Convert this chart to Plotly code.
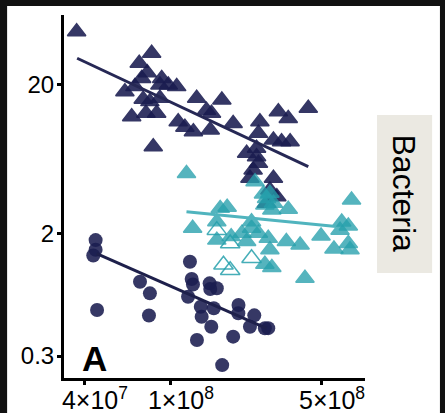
import plotly.graph_objects as go

# ---- data ----
navy_tri_x = [3.66e7, 8.14e7, 7.13e7, 7.77e7, 7.32e7, 9.06e7, 9.72e7, 1.063e8, 8.89e7, 6.81e7,
              6.12e7, 7.44e7, 7.99e7, 8.89e7, 6.58e7, 7.66e7, 8.59e7, 1.315e8, 1.46e8, 1.54e8,
              1.08e8, 1.16e8, 1.27e8, 1.52e8, 8.28e7, 1.72e8, 1.94e8, 3.14e8, 4.32e8, 3.49e8,
              2.58e8, 2.54e8, 2.98e8, 3.25e8, 3.56e8, 2.24e8, 2.49e8, 2.49e8, 2.54e8, 2.40e8,
              2.32e8, 2.98e8, 2.87e8, 3.09e8, 2.77e8]
navy_tri_y = [45.1, 32.3, 27.7, 23.9, 21.9, 21.9, 19.8, 19.3, 19.8, 19.3,
              17.8, 15.9, 15.3, 16.1, 12.1, 12.8, 12.8, 16.1, 13.4, 12.8,
              11.2, 10.3, 9.6, 9.87, 7.62, 15.7, 10.9, 13.1, 13.8, 11.8,
              11.2, 9.38, 8.45, 8.24, 8.24, 6.89, 7.44, 6.53, 5.90, 5.32,
              4.68, 4.68, 3.91, 3.52, 3.18]

teal_tri_x = [1.18e8, 6.85e8, 1.82e8, 3.49e8, 2.77e8, 2.98e8, 2.72e8, 2.93e8, 2.45e8, 1.26e8,
              1.63e8, 1.63e8, 1.90e8, 2.13e8, 2.24e8, 2.36e8, 2.36e8, 2.54e8, 2.82e8, 2.87e8,
              2.72e8, 2.93e8, 3.42e8, 3.96e8, 4.95e8, 6.17e8, 6.62e8, 6.06e8, 5.68e8, 6.62e8,
              6.74e8, 4.17e8, 1.69e8, 2.68e8, 2.87e8]
teal_tri_y = [5.04, 3.35, 2.99, 2.90, 3.43, 3.18, 3.10, 2.87, 4.44, 2.16,
              2.39, 1.80, 1.90, 2.0, 1.76, 2.39, 2.16, 2.0, 1.85, 1.55,
              1.24, 1.18, 1.76, 1.67, 1.92, 2.38, 2.24, 2.10, 1.57, 1.71,
              1.55, 1.0, 2.94, 3.67, 3.71]

teal_open_x = [1.63e8, 1.88e8, 1.75e8, 1.88e8, 2.36e8]
teal_open_y = [2.10, 1.71, 1.23, 1.13, 1.36]

navy_circ_x = [4.48e7, 4.48e7, 4.37e7, 4.55e7, 7.19e7, 7.99e7, 7.91e7, 1.224e8, 1.247e8, 1.264e8,
               1.20e8, 1.51e8, 1.52e8, 1.63e8, 1.374e8, 1.387e8, 1.578e8, 1.537e8, 1.319e8, 1.94e8,
               2.054e8, 2.05e8, 2.43e8, 2.32e8, 2.72e8, 2.82e8, 1.726e8]
navy_circ_y = [1.80, 1.55, 1.42, 0.611, 0.947, 0.791, 0.561, 1.29, 0.987, 0.906,
               0.751, 0.923, 0.846, 0.855, 0.643, 0.551, 0.628, 0.472, 0.385, 0.405,
               0.660, 0.581, 0.563, 0.472, 0.461, 0.462, 0.261]

tri_fit_x = [3.68e7, 4.32e8]
tri_fit_y = [29.9, 5.6]
teal_fit_x = [1.18e8, 5.81e8]
teal_fit_y = [2.79, 2.22]
circ_fit_x = [4.53e7, 2.77e8]
circ_fit_y = [1.46, 0.461]

x_tickvals = [4e7, 1e8, 5e8]
x_ticktext = ["4×10<sup>7</sup>", "1×10<sup>8</sup>", "5×10<sup>8</sup>"]
y_tickvals = [20, 2, 0.3]
y_ticktext = ["20", "2", "0.3"]

panel_label = "A"
strip_label = "Bacteria"

# ---- style ----
NAVY = "rgb(26,28,80)"
TEAL = "rgb(38,160,172)"
FONT = "Liberation Sans, Arial, sans-serif"

fig = go.Figure()

fig.add_trace(go.Scatter(x=navy_circ_x, y=navy_circ_y, mode="markers",
                         marker=dict(symbol="circle", size=14, color=NAVY, opacity=0.88,
                                     line=dict(width=0)), showlegend=False))
fig.add_trace(go.Scatter(x=navy_tri_x, y=navy_tri_y, mode="markers",
                         marker=dict(symbol="triangle-up", size=16, color=NAVY, opacity=0.88,
                                     line=dict(width=1.5, color=NAVY)), showlegend=False))
fig.add_trace(go.Scatter(x=teal_tri_x, y=teal_tri_y, mode="markers",
                         marker=dict(symbol="triangle-up", size=16, color=TEAL, opacity=0.78,
                                     line=dict(width=1.5, color=TEAL)), showlegend=False))
fig.add_trace(go.Scatter(x=teal_open_x, y=teal_open_y, mode="markers",
                         marker=dict(symbol="triangle-up-open", size=17, color=TEAL, opacity=0.85,
                                     line=dict(width=1.5, color=TEAL)), showlegend=False))

fig.add_trace(go.Scatter(x=tri_fit_x, y=tri_fit_y, mode="lines",
                         line=dict(color="rgb(38,40,85)", width=3), showlegend=False))
fig.add_trace(go.Scatter(x=teal_fit_x, y=teal_fit_y, mode="lines",
                         line=dict(color="rgb(80,180,190)", width=3), showlegend=False))
fig.add_trace(go.Scatter(x=circ_fit_x, y=circ_fit_y, mode="lines",
                         line=dict(color="rgb(30,32,75)", width=3), showlegend=False))

fig.update_layout(
    width=445, height=413,
    margin=dict(l=64, r=80, t=15, b=35),
    paper_bgcolor="#111111",
    plot_bgcolor="white",
    font=dict(family=FONT, color="black"),
    shapes=[
        dict(type="rect", xref="paper", yref="paper", x0=-0.189, x1=1.249, y0=-0.2, y1=1.025,
             fillcolor="white", line=dict(width=0), layer="below"),
        dict(type="rect", xref="paper", yref="paper", x0=1.040, x1=1.223, y0=0.289, y1=0.7245,
             fillcolor="#ebe9e2", line=dict(width=0), layer="below"),
    ],
    annotations=[
        dict(text=f"<b>{panel_label}</b>", xref="paper", yref="paper", x=0.1, y=0.055,
             xanchor="center", yanchor="middle", showarrow=False,
             font=dict(family=FONT, size=35, color="black")),
        dict(text=strip_label, xref="paper", yref="paper", x=1.131, y=0.507,
             xanchor="center", yanchor="middle", showarrow=False, textangle=90,
             font=dict(family=FONT, size=32, color="black")),
    ],
)

fig.update_xaxes(type="log", range=[7.505, 8.898], showgrid=False, zeroline=False,
                 automargin=False,
                 showline=True, linecolor="black", linewidth=3,
                 ticks="outside", ticklen=4, tickwidth=3, tickcolor="black",
                 tickvals=x_tickvals, ticktext=x_ticktext,
                 ticklabelstandoff=-6, ticklabelshift=10,
                 tickfont=dict(family=FONT, size=25, color="black"))
fig.update_yaxes(type="log", range=[-0.670, 1.766], showgrid=False, zeroline=False,
                 automargin=False,
                 showline=True, linecolor="black", linewidth=3,
                 ticks="outside", ticklen=4, tickwidth=3, tickcolor="black",
                 tickvals=y_tickvals, ticktext=y_ticktext, ticklabelstandoff=-2,
                 tickfont=dict(family=FONT, size=24, color="black"))

fig.write_html("out.html", config={"displayModeBar": False},
               post_script="document.body.style.margin='0';document.body.style.overflow='hidden';")
